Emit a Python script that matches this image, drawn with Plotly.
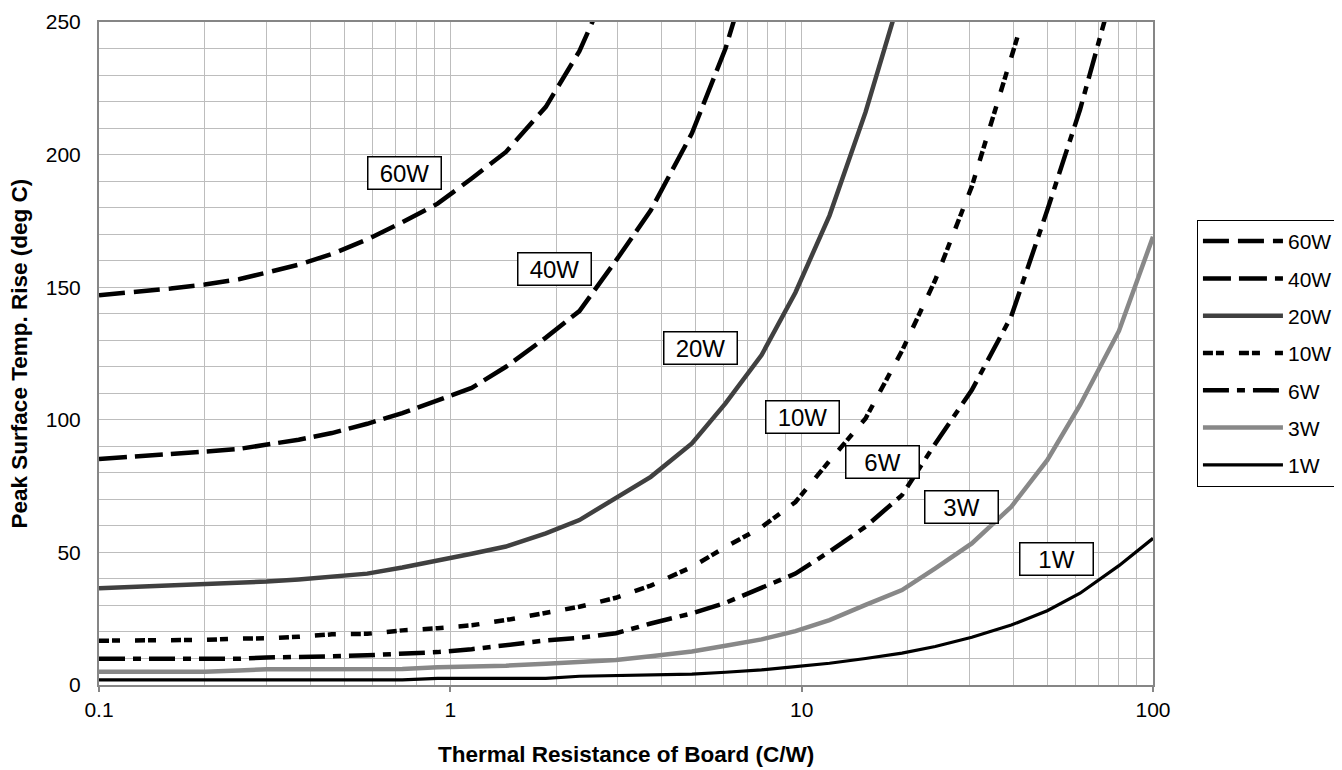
import plotly.graph_objects as go

# ---- data ----
x_60W = [0.1, 0.125, 0.16, 0.2, 0.25, 0.3, 0.37, 0.46, 0.58, 0.73, 0.92, 1.15, 1.44, 1.87, 2.33, 2.96]
y_60W = [147, 148, 149.5, 151, 153, 155.5, 158.5, 162.5, 168, 174.5, 181.5, 191, 201, 218, 239, 270]

x_40W = [0.1, 0.125, 0.16, 0.2, 0.25, 0.3, 0.37, 0.46, 0.58, 0.73, 0.92, 1.15, 1.44, 1.87, 2.33, 2.96, 3.72, 4.87, 6.07, 7.69]
y_40W = [85.2, 86, 87, 88, 89, 90.5, 92.5, 95, 98.5, 102.5, 107.5, 112, 120, 131, 141, 160, 179, 208, 240, 285]

x_20W = [0.1, 0.125, 0.16, 0.2, 0.25, 0.3, 0.37, 0.46, 0.58, 0.73, 0.92, 1.15, 1.44, 1.87, 2.33, 2.96, 3.72, 4.87, 6.07, 7.69, 9.6, 12.0, 15.2, 19.3]
y_20W = [36.5, 37, 37.3, 37.7, 38.3, 39, 39.8, 40.7, 42, 44.3, 46.8, 49.5, 52.2, 57.2, 62.2, 70.4, 78.5, 91.1, 106.2, 124.4, 148, 177, 216, 262]

x_10W = [0.1, 0.125, 0.16, 0.2, 0.25, 0.3, 0.37, 0.46, 0.58, 0.73, 0.92, 1.15, 1.44, 1.87, 2.33, 2.96, 3.72, 4.87, 6.07, 7.69, 9.6, 12.0, 15.2, 19.3, 24, 30.5, 39.5, 41.5]
y_10W = [16.7, 16.7, 16.8, 17.0, 17.5, 17.6, 18.2, 19.1, 19.3, 20.6, 21.4, 22.5, 24.5, 27, 29.5, 32.9, 37.5, 44.5, 52, 59.5, 69, 84.5, 100.5, 126, 152.7, 188, 236, 246]

x_6W = [0.1, 0.125, 0.16, 0.2, 0.25, 0.3, 0.37, 0.46, 0.58, 0.73, 0.92, 1.15, 1.44, 1.87, 2.33, 2.96, 3.72, 4.87, 6.07, 7.69, 9.6, 12.0, 15.2, 19.3, 24, 30.5, 39.5, 50, 62, 80]
y_6W = [9.9, 9.9, 9.9, 9.9, 9.9, 10.4, 10.5, 10.8, 11.2, 11.7, 12.4, 13.5, 15.1, 16.8, 17.8, 19.5, 23.2, 27, 31, 36.5, 42, 50.3, 59.7, 71.6, 91, 111.2, 139, 179, 217, 270]

x_3W = [0.1, 0.125, 0.16, 0.2, 0.25, 0.3, 0.37, 0.46, 0.58, 0.73, 0.92, 1.15, 1.44, 1.87, 2.33, 2.96, 3.72, 4.87, 6.07, 7.69, 9.6, 12.0, 15.2, 19.3, 24, 30.5, 39.5, 50, 62, 80, 100]
y_3W = [5.0, 5.0, 5.0, 5.0, 5.5, 5.9, 5.9, 5.9, 5.9, 6.0, 6.7, 6.8, 7.3, 8.0, 8.6, 9.4, 10.8, 12.6, 14.8, 17.2, 20.3, 24.5, 30.2, 35.8, 44, 53.4, 67.2, 84.8, 105.6, 133.5, 169]

x_1W = [0.1, 0.125, 0.16, 0.2, 0.25, 0.3, 0.37, 0.46, 0.58, 0.73, 0.92, 1.15, 1.44, 1.87, 2.33, 2.96, 3.72, 4.87, 6.07, 7.69, 9.6, 12.0, 15.2, 19.3, 24, 30.5, 39.5, 50, 62, 80, 100]
y_1W = [1.9, 1.9, 1.9, 1.9, 1.9, 1.9, 1.9, 1.9, 1.9, 1.9, 2.5, 2.5, 2.5, 2.5, 3.3, 3.5, 3.8, 4.1, 4.8, 5.7, 6.9, 8.2, 10, 12, 14.5, 18, 22.6, 28, 34.6, 45, 55.3]

series_names = ["60W", "40W", "20W", "10W", "6W", "3W", "1W"]
series_x = [x_60W, x_40W, x_20W, x_10W, x_6W, x_3W, x_1W]
series_y = [y_60W, y_40W, y_20W, y_10W, y_6W, y_3W, y_1W]

x_tick_vals = [0.1, 1, 10, 100]
x_tick_text = ["0.1", "1", "10", "100"]
x_minor_vals = [m * d for d in (0.1, 1, 10) for m in range(2, 10)]

# ---- styles ----
styles = {
    "60W": dict(color="black", width=4.5, dash="26px,9px"),
    "40W": dict(color="black", width=4.5, dash="28px,8px"),
    "20W": dict(color="#404040", width=4.5, dash="solid"),
    "10W": dict(color="black", width=4.5, dash="10px,3px,8px,15px"),
    "6W": dict(color="black", width=4.5, dash="26px,8px,8px,8px"),
    "3W": dict(color="#888888", width=4.5, dash="solid"),
    "1W": dict(color="black", width=3.2, dash="solid"),
}

# label anchors (log10 x, y) for the in-plot boxes
label_pos = {
    "60W": (-0.131, 193),
    "40W": (0.2955, 157),
    "20W": (0.713, 127),
    "10W": (1.003, 101),
    "6W": (1.230, 84),
    "3W": (1.4545, 67),
    "1W": (1.724, 47.5),
}

FONT = "Liberation Sans, Arial, sans-serif"
GRID = "#bdbdbd"
AXIS = "#868686"

fig = go.Figure()
for name, xs, ys in zip(series_names, series_x, series_y):
    fig.add_trace(go.Scatter(
        x=xs, y=ys, mode="lines", name=name, legendgroup=name,
        line=dict(**styles[name]),
    ))

annotations = []
for name in series_names:
    lx, ly = label_pos[name]
    annotations.append(dict(
        x=lx, y=ly, xref="x", yref="y", text=name, showarrow=False,
        font=dict(family=FONT, size=24, color="black"),
        bgcolor="white", bordercolor="black", borderwidth=1.5,
        width=70, height=29, borderpad=1,
    ))

annotations.append(dict(
    x=0.5, y=-0.105, xref="paper", yref="paper",
    text="<b>Thermal Resistance of Board (C/W)</b>", showarrow=False,
    font=dict(family=FONT, size=22.5, color="black"),
    xanchor="center", yanchor="middle",
))
annotations.append(dict(
    x=-0.075, y=0.5, xref="paper", yref="paper",
    text="<b>Peak Surface Temp. Rise (deg C)</b>", showarrow=False,
    font=dict(family=FONT, size=22.5, color="black"), textangle=-90,
    xanchor="center", yanchor="middle",
))

fig.update_layout(
    width=1326, height=762,
    margin=dict(l=91, r=181, t=14, b=85, autoexpand=False),
    paper_bgcolor="white", plot_bgcolor="white",
    font=dict(family=FONT, size=21, color="black"),
    showlegend=True,
    legend=dict(
        x=1.0417, y=0.7014, xanchor="left", yanchor="top",
        bordercolor="black", borderwidth=1, bgcolor="white",
        font=dict(family=FONT, size=21, color="black"),
        tracegroupgap=7, itemwidth=80,
    ),
    annotations=annotations,
)

fig.update_xaxes(
    type="log", range=[-1, 2],
    tickvals=x_tick_vals, ticktext=x_tick_text,
    showgrid=True, gridcolor=GRID, gridwidth=1,
    minor=dict(tickvals=x_minor_vals, showgrid=True, gridcolor=GRID, gridwidth=1, ticks=""),
    showline=True, linecolor=AXIS, linewidth=2, mirror=True,
    ticks="outside", ticklen=5, tickcolor=AXIS, tickwidth=2,
    tickfont=dict(family=FONT, size=21, color="black"),
    zeroline=False,
)
fig.update_yaxes(
    range=[0, 250], dtick=50, tick0=0,
    showgrid=True, gridcolor=GRID, gridwidth=1,
    minor=dict(dtick=10, showgrid=True, gridcolor=GRID, gridwidth=1, ticks=""),
    showline=True, linecolor=AXIS, linewidth=2, mirror=True,
    ticks="", ticklabelstandoff=12,
    tickfont=dict(family=FONT, size=21, color="black"),
    zeroline=False,
)

fig.write_html("out.html")
